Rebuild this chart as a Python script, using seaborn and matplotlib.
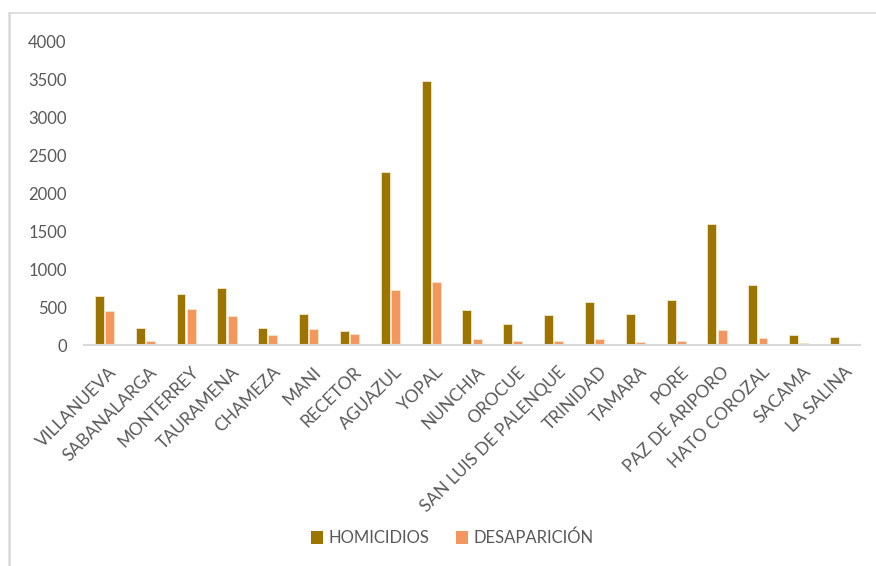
import matplotlib
matplotlib.use("Agg")
import matplotlib.pyplot as plt
from matplotlib.lines import Line2D
from matplotlib.patches import Patch
from matplotlib.transforms import ScaledTranslation
import seaborn as sns
import pandas as pd

municipios = [
    "VILLANUEVA", "SABANALARGA", "MONTERREY", "TAURAMENA", "CHAMEZA", "MANI",
    "RECETOR", "AGUAZUL", "YOPAL", "NUNCHIA", "OROCUE", "SAN LUIS DE PALENQUE",
    "TRINIDAD", "TAMARA", "PORE", "PAZ DE ARIPORO", "HATO COROZAL", "SACAMA",
    "LA SALINA",
]
homicidios = [645, 224, 671, 750, 224, 408, 180, 2276, 3469, 460, 272, 395,
              561, 412, 592, 1596, 794, 136, 101]
desaparicion = [443, 53, 474, 382, 136, 206, 149, 724, 825, 79, 48, 53,
                75, 39, 48, 193, 88, 31, 0]
series = ["HOMICIDIOS", "DESAPARICIÓN"]
colores = ["#9C7500", "#F4975F"]
yticks = [0, 500, 1000, 1500, 2000, 2500, 3000, 3500, 4000]

df = pd.DataFrame({
    "municipio": municipios * 2,
    "serie": [series[0]] * len(municipios) + [series[1]] * len(municipios),
    "valor": homicidios + desaparicion,
})

sns.set_style("white")
plt.rcParams["font.family"] = ["Lato", "DejaVu Sans"]

fig = plt.figure(figsize=(8.76, 5.66), dpi=100)
ax = fig.add_axes([84 / 876, 1 - 345 / 566, (860 - 84) / 876, (345 - 41) / 566])

sns.barplot(data=df, x="municipio", y="valor", hue="serie", order=municipios,
            hue_order=series, palette=colores, saturation=1, width=0.5, gap=0.12,
            edgecolor="#F3E6CC", linewidth=0.6, legend=False, ax=ax)

ax.set_ylim(0, 4000)
ax.set_yticks(yticks)
ax.set_yticklabels([str(v) for v in yticks])
ax.set_xlim(-0.5, len(municipios) - 0.5)
ax.set_xlabel("")
ax.set_ylabel("")
ax.grid(False)
for side in ["top", "right", "left"]:
    ax.spines[side].set_visible(False)
ax.spines["bottom"].set_color("#D9D9D9")
ax.spines["bottom"].set_linewidth(1.5)
ax.tick_params(axis="both", length=0, colors="#595959", labelsize=12)
ax.tick_params(axis="x", labelsize=12.5, pad=13.5)
ax.tick_params(axis="y", pad=12.5)
shift = ScaledTranslation(4 / 100, 0, fig.dpi_scale_trans)
for lbl in ax.get_xticklabels():
    lbl.set_rotation(45)
    lbl.set_ha("right")
    lbl.set_rotation_mode("anchor")
    lbl.set_transform(lbl.get_transform() + shift)

handles = [Patch(facecolor=c, edgecolor="none") for c in colores]
fig.legend(handles, series, loc="center", bbox_to_anchor=(452 / 876, 1 - 538 / 566),
           ncol=2, frameon=False, fontsize=12, labelcolor="#595959",
           handlelength=0.75, handleheight=0.75, handletextpad=0.3, columnspacing=1.6)

# chart-area border (top and left edges)
border = "#D9D9D9"
fig.add_artist(Line2D([9 / 876, 1], [1 - 12.5 / 566, 1 - 12.5 / 566],
                      transform=fig.transFigure, color=border, lw=1.2))
fig.add_artist(Line2D([9 / 876, 9 / 876], [0, 1 - 12.5 / 566],
                      transform=fig.transFigure, color=border, lw=1.8))

fig.savefig("out.png", dpi=100, facecolor="white")
